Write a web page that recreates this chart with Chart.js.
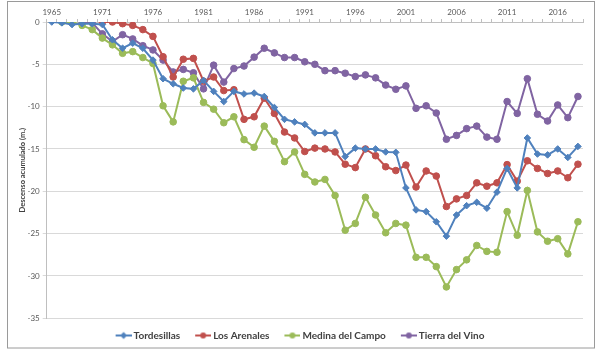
<!DOCTYPE html>
<html>
<head>
<meta charset="utf-8">
<script src="https://cdn.jsdelivr.net/npm/chart.js@4.4.1/dist/chart.umd.min.js"></script>
<style>
  html, body { margin: 0; padding: 0; background: #ffffff; }
  #wrap { width: 600px; height: 356px; position: relative; }
</style>
</head>
<body>
<div id="wrap"><canvas id="c" width="600" height="356"></canvas></div>
<script>
// Categories: 1965, then 1967..2018
const years = [1965, 1967, 1968, 1969, 1970, 1971, 1972, 1973, 1974, 1975, 1976, 1977, 1978, 1979, 1980,
  1981, 1982, 1983, 1984, 1985, 1986, 1987, 1988, 1989, 1990, 1991, 1992, 1993, 1994, 1995, 1996,
  1997, 1998, 1999, 2000, 2001, 2002, 2003, 2004, 2005, 2006, 2007, 2008, 2009, 2010, 2011, 2012,
  2013, 2014, 2015, 2016, 2017, 2018];

const tordesillas = [0, -0.1, -0.3, -0.2, -0.2, -0.3, -2.1, -3.1, -2.5, -3.1, -4.5, -6.7, -7.3, -7.8, -7.9,
  -6.9, -8.2, -9.4, -8.2, -8.5, -8.4, -8.8, -10.1, -11.5, -11.8, -12.1, -13.1, -13.1, -13.1, -15.9, -14.9,
  -15.0, -15.0, -15.35, -15.4, -19.6, -22.2, -22.4, -23.6, -25.3, -22.8, -21.7, -21.3, -22.0, -20.1, -17.3, -19.6,
  -13.7, -15.6, -15.7, -15.0, -16.0, -14.7];

const losArenales = [null, null, null, null, null, 0, 0, -0.2, -0.4, -0.9, -1.7, -4.1, -6.5, -4.4, -4.3,
  -7.0, -6.5, -8.1, -8.0, -11.5, -11.2, -9.0, -10.8, -13.0, -13.7, -15.3, -14.9, -15.0, -15.35, -16.8, -17.2,
  -15.0, -15.8, -17.1, -17.55, -16.9, -19.5, -17.6, -18.2, -21.8, -20.9, -20.5, -19.0, -19.4, -19.0, -16.85, -18.8,
  -16.4, -17.3, -17.9, -17.6, -18.4, -16.8];

const medinaDelCampo = [null, 0, 0, -0.4, -0.9, -1.9, -2.7, -3.7, -3.5, -4.2, -4.9, -9.9, -11.8, -7.0, -6.6,
  -9.5, -10.3, -11.9, -11.2, -13.9, -14.8, -12.3, -14.1, -16.5, -15.35, -18.0, -18.9, -18.6, -20.5, -24.6, -23.8,
  -20.7, -22.8, -24.9, -23.8, -24.0, -27.8, -27.8, -28.9, -31.3, -29.25, -28.1, -26.4, -27.1, -27.2, -22.4, -25.2,
  -19.9, -24.8, -25.9, -25.6, -27.4, -23.6];

const tierraDelVino = [null, null, null, 0, -0.1, -1.4, -2.3, -1.5, -2.0, -2.8, -3.3, -4.5, -5.9, -5.6, -6.0,
  -7.9, -5.1, -7.1, -5.5, -5.2, -4.15, -3.1, -3.65, -4.2, -4.2, -4.7, -5.0, -5.75, -5.75, -6.05, -6.45,
  -6.25, -6.6, -7.45, -7.95, -7.55, -10.2, -9.9, -10.75, -13.85, -13.4, -12.6, -12.3, -13.6, -13.85, -9.4, -10.8,
  -6.7, -10.9, -11.7, -9.8, -11.3, -8.8];

const seriesNames = ['Tordesillas', 'Los Arenales', 'Medina del Campo', 'Tierra del Vino'];
const seriesColors = ['#4F81BD', '#C0504D', '#9BBB59', '#8064A2'];
const seriesMarkers = ['rectRot', 'circle', 'circle', 'circle'];
const yTicks = { min: -35, max: 0, step: 5 };
const yTitle = 'Descenso acumulado (m.)';

const seriesData = [tordesillas, losArenales, medinaDelCampo, tierraDelVino];

function legendSymbol(color, marker) {
  const c = document.createElement('canvas');
  c.width = 28; c.height = 10;
  const g = c.getContext('2d');
  g.strokeStyle = color; g.lineWidth = 2;
  g.beginPath(); g.moveTo(12, 5); g.lineTo(28, 5); g.stroke();
  g.fillStyle = color;
  const cx = 20, cy = 5, r = 3;
  g.beginPath();
  if (marker === 'rectRot') {
    g.moveTo(cx, cy - r - 0.5); g.lineTo(cx + r + 0.5, cy); g.lineTo(cx, cy + r + 0.5); g.lineTo(cx - r - 0.5, cy); g.closePath();
  } else {
    g.arc(cx, cy, r, 0, Math.PI * 2);
  }
  g.fill();
  return c;
}
const symbols = seriesColors.map((col, i) => legendSymbol(col, seriesMarkers[i]));

const framePlugin = {
  id: 'frame',
  beforeDraw(chart) {
    const ctx = chart.ctx;
    ctx.save();
    ctx.fillStyle = '#ffffff';
    ctx.fillRect(0, 0, chart.width, chart.height);
    ctx.strokeStyle = '#9a9a9a';
    ctx.lineWidth = 1;
    ctx.strokeRect(7.5, 1.5, 587, 346.5);
    ctx.restore();
  }
};

const tickFont = { family: 'Lato, "Liberation Sans", sans-serif', size: 8 };

new Chart(document.getElementById('c'), {
  type: 'line',
  data: {
    labels: years.map(String),
    datasets: seriesData.map((d, i) => ({
      label: seriesNames[i],
      data: d,
      borderColor: seriesColors[i],
      backgroundColor: seriesColors[i],
      borderWidth: 2,
      pointStyle: seriesMarkers[i],
      pointRadius: 3.3,
      pointBorderWidth: 1,
      pointBackgroundColor: seriesColors[i],
      pointBorderColor: seriesColors[i],
      tension: 0,
      spanGaps: false,
      fill: false
    }))
  },
  options: {
    responsive: false,
    animation: false,
    devicePixelRatio: 1,
    layout: { padding: { left: 8, right: 17, top: 0, bottom: 5.5 } },
    plugins: {
      tooltip: { enabled: false },
      legend: {
        position: 'bottom',
        align: 'center',
        title: { display: true, text: ' ', padding: 0, font: { size: 5, lineHeight: 1.25 } },
        labels: {
          usePointStyle: true,
          pointStyleWidth: 22,
          padding: 6,
          color: '#404040',
          font: { family: 'Lato, "Liberation Sans", sans-serif', size: 10, weight: 'bold' },
          generateLabels(chart) {
            const items = Chart.defaults.plugins.legend.labels.generateLabels(chart);
            items.forEach((it, i) => { it.pointStyle = symbols[i]; });
            return items;
          }
        }
      }
    },
    scales: {
      x: {
        position: 'top',
        offset: true,
        afterFit(scale) { scale.height = 22; },
        grid: { drawOnChartArea: false, drawTicks: true, tickLength: 3, color: '#bfbfbf', offset: true },
        border: { display: true, color: '#bfbfbf' },
        ticks: {
          autoSkip: false,
          maxRotation: 0,
          padding: 2,
          color: '#595959',
          font: tickFont,
          callback(value, index) { return index % 5 === 0 ? years[index] : ''; }
        }
      },
      y: {
        min: yTicks.min,
        max: yTicks.max,
        afterFit(scale) { scale.width = 38.7; },
        grid: { color: '#d9d9d9', tickLength: 4, drawTicks: true },
        border: { display: true, color: '#bfbfbf' },
        ticks: { stepSize: yTicks.step, padding: 3, color: '#595959', font: tickFont },
        title: {
          display: true,
          text: yTitle,
          color: '#404040',
          padding: { top: 10.5, bottom: 0 },
          font: { family: 'Lato, "Liberation Sans", sans-serif', size: 7.5, weight: 'bold' }
        }
      }
    }
  },
  plugins: [framePlugin]
});
</script>
</body>
</html>
